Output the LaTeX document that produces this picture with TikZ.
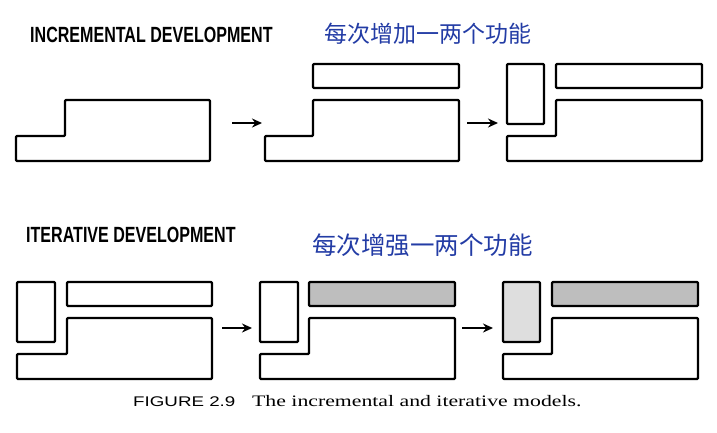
\documentclass[tikz,border=0pt]{standalone}
\usepackage{fontspec}
\setmainfont[FakeStretch=1.36]{Liberation Serif}
\newfontfamily\titlefont[FakeStretch=0.73]{Liberation Sans}
\newfontfamily\capfont[FakeStretch=1.34]{Liberation Sans}
\newfontfamily\cjkfont{Noto Sans CJK SC}
\usetikzlibrary{arrows.meta}
\definecolor{inkblue}{RGB}{35,60,165}
\definecolor{bargray}{RGB}{190,190,190}
\definecolor{boxgray}{RGB}{222,222,222}

\begin{document}
\begin{tikzpicture}[x=1pt, y=-1pt,
    part/.style={draw, line width=2.4pt, line join=round, rounded corners=1pt},
    arrow/.style={line width=2pt, -{Stealth[length=10pt, width=9pt]}},
    title/.style={anchor=base west, inner sep=0pt, font=\titlefont\bfseries\fontsize{22}{22}\selectfont},
    note/.style={anchor=base west, inner sep=0pt, text=inkblue, font=\cjkfont\fontsize{#1}{#1}\selectfont}]
    \useasboundingbox (0,0) rectangle (717,432);

    % incremental
    \node [title] (inctitle) at (30,42) {INCREMENTAL DEVELOPMENT};
    \node [note=23] (incnote) at (324,42) {每次增加一两个功能};

    \draw [part] (16,136) -- (65,136) -- (65,100) -- (210,100) -- (210,161) -- (16,161) -- cycle;

    \draw [part] (313,64) rectangle (459,88);
    \draw [part] (265,136) -- (313,136) -- (313,100) -- (459,100) -- (459,161) -- (265,161) -- cycle;

    \draw [part] (507,64) rectangle (544,124);
    \draw [part] (556,64) rectangle (702,88);
    \draw [part] (507,136) -- (556,136) -- (556,100) -- (702,100) -- (702,161) -- (507,161) -- cycle;

    \coordinate (inc1out) at (232,123);
    \coordinate (inc2in) at (262,123);
    \coordinate (inc2out) at (467,123);
    \coordinate (inc3in) at (498,123);
    \draw [arrow] (inc1out) -- (inc2in);
    \draw [arrow] (inc2out) -- (inc3in);

    % iterative
    \node [title] (itertitle) at (26,242) {ITERATIVE DEVELOPMENT};
    \node [note=24.5] (iternote) at (312,254) {每次增强一两个功能};

    \draw [part] (17,282) rectangle (55,342);
    \draw [part] (67,282) rectangle (212,306);
    \draw [part] (17,354) -- (67,354) -- (67,318) -- (212,318) -- (212,379) -- (17,379) -- cycle;

    \draw [part] (260,282) rectangle (298,342);
    \draw [part, fill=bargray] (309,282) rectangle (455,306);
    \draw [part] (260,354) -- (309,354) -- (309,318) -- (455,318) -- (455,379) -- (260,379) -- cycle;

    \draw [part, fill=boxgray] (503,282) rectangle (540,342);
    \draw [part, fill=bargray] (552,282) rectangle (698,306);
    \draw [part] (503,354) -- (552,354) -- (552,318) -- (698,318) -- (698,379) -- (503,379) -- cycle;

    \coordinate (iter1out) at (222,328);
    \coordinate (iter2in) at (252,328);
    \coordinate (iter2out) at (462,328);
    \coordinate (iter3in) at (493,328);
    \draw [arrow] (iter1out) -- (iter2in);
    \draw [arrow] (iter2out) -- (iter3in);

    % caption
    \node [anchor=base west, inner sep=0pt, font=\capfont\fontsize{14}{14}\selectfont] (capnum) at (133,406) {FIGURE 2.9};
    \node [anchor=base west, inner sep=0pt, font=\fontsize{16}{16}\selectfont] (captext) at (252,406) {The incremental and iterative models.};
\end{tikzpicture}
\end{document}
